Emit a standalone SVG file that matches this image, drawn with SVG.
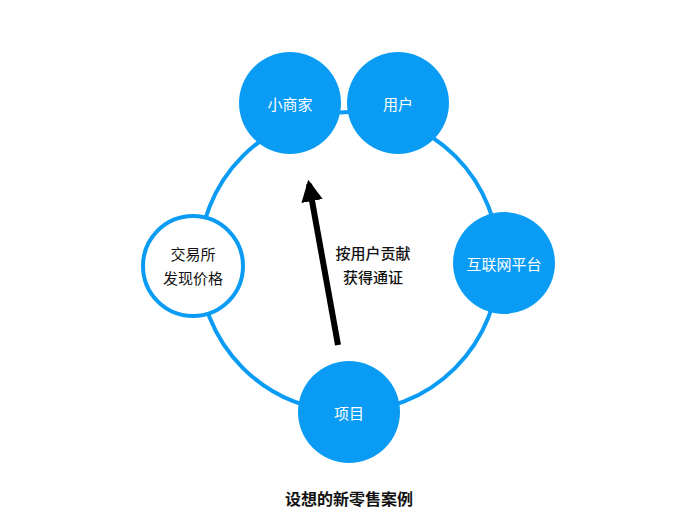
<svg xmlns="http://www.w3.org/2000/svg" width="698" height="524" viewBox="0 0 698 524">
<defs>
<style>
.ring{fill:none;stroke:#0a9cf4;stroke-width:4}
.node{fill:#0a9cf4}
.wnode{fill:#fff;stroke:#0a9cf4;stroke-width:4}
text{font-family:"Noto Sans CJK SC","Noto Sans",sans-serif;text-anchor:middle;dominant-baseline:central}
.wl{fill:#fff;font-size:15px}
.dl{fill:#111;font-size:15px}
</style>
<marker id="ah" viewBox="0 0 10 10" refX="8" refY="5" markerWidth="3.6" markerHeight="3.6" orient="auto" markerUnits="strokeWidth">
<path d="M0,0 L10,5 L0,10 Z" fill="#000"/>
</marker>
</defs>
<rect width="698" height="524" fill="#fff"/>
<g id="connectors">
<circle class="ring" cx="349" cy="262" r="150"/>
<line x1="338" y1="345" x2="309" y2="184" stroke="#000" stroke-width="6" marker-end="url(#ah)"/>
<text x="373" y="252" class="dl" font-size="15.5" font-weight="500">按用户贡献</text>
<text x="373" y="276" class="dl" font-size="15.5" font-weight="500">获得通证</text>
</g>
<g id="xiaoshangjia"><circle class="node" cx="290" cy="103" r="51"/><text class="wl" x="290" y="103">小商家</text></g>
<g id="yonghu"><circle class="node" cx="398" cy="103" r="51"/><text class="wl" x="398" y="103">用户</text></g>
<g id="hulianwang"><circle class="node" cx="504" cy="263" r="51"/><text class="wl" x="504" y="263">互联网平台</text></g>
<g id="xiangmu"><circle class="node" cx="349" cy="412" r="51"/><text class="wl" x="349" y="412">项目</text></g>
<g id="jiaoyisuo"><circle class="wnode" cx="193" cy="266" r="50"/><text class="dl" x="193" y="253">交易所</text><text class="dl" x="193" y="277">发现价格</text></g>
<g id="title"><text x="349" y="498" font-size="16" font-weight="bold" fill="#111">设想的新零售案例</text></g>
</svg>
